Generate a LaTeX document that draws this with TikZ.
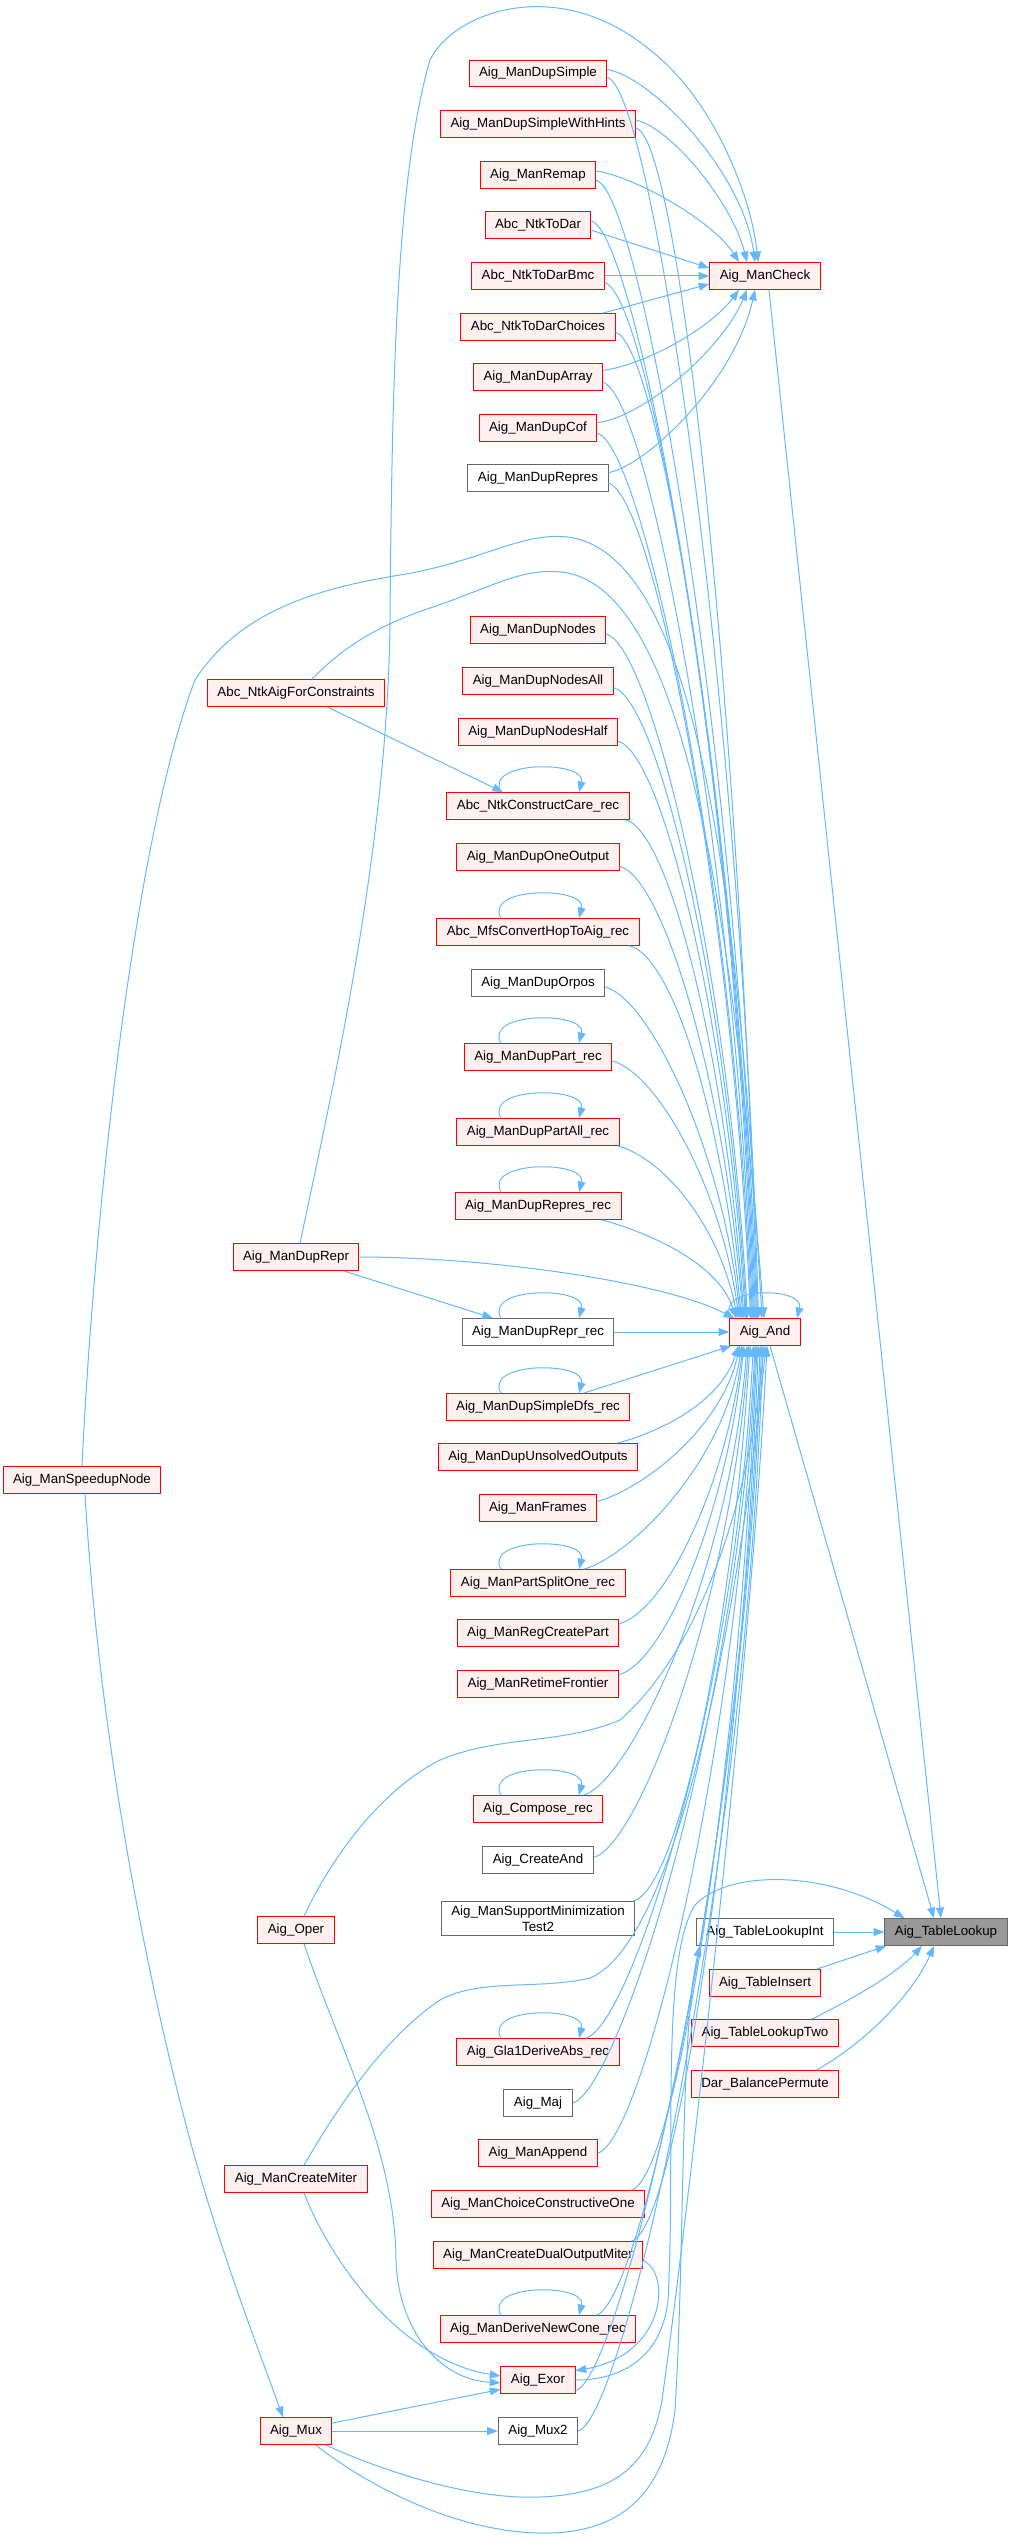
\documentclass[tikz,border=0pt]{standalone}
\usepackage{fontspec}
\setmainfont{Liberation Sans}
\usetikzlibrary{arrows.meta,calc}
\definecolor{edgec}{HTML}{63B8FF}
\definecolor{nodered}{HTML}{FF0000}
\definecolor{nodefill}{HTML}{FFF0F0}
\definecolor{graybd}{HTML}{666666}
\definecolor{focusfill}{HTML}{999999}
\newcommand\dnX[3]{\draw[ed] #1 .. controls +(45,12) and +(-18,#2) .. ($(A.north)+(#3,0)$);}
\newcommand\upX[3]{\draw[ed] #1 .. controls +(45,-12) and +(-18,#2) .. ($(A.south)+(#3,0)$);}
\newcommand\selfloop[3]{\draw[ed] ($(#1.north)+(#2,0)$) .. controls +(-18,-32) and +(8,-32) .. ($(#1.north)+(#3,0)$);}
\begin{document}
\begin{tikzpicture}[x=0.75pt,y=-0.75pt,
  base/.style={draw, rectangle, font=\fontsize{10pt}{12pt}\selectfont, minimum height=20pt, inner xsep=7.5pt, inner ysep=2pt, line width=0.75pt},
  rn/.style={base, draw=nodered, fill=nodefill},
  gn/.style={base, draw=graybd, fill=white},
  fn/.style={base, draw=graybd, fill=focusfill},
  ed/.style={draw=edgec, line width=0.75pt, -{Triangle[length=8pt,width=6pt]}}]
\useasboundingbox (0,0) rectangle (1011,2540);

% column 2
\node[rn] (n1) at (538,73.5) {Aig\_ManDupSimple};
\node[rn] (n2) at (538,124) {Aig\_ManDupSimpleWithHints};
\node[rn] (n3) at (538,175) {Aig\_ManRemap};
\node[rn] (n4) at (538,225) {Abc\_NtkToDar};
\node[rn] (n5) at (538,276) {Abc\_NtkToDarBmc};
\node[rn] (n6) at (538,327) {Abc\_NtkToDarChoices};
\node[rn] (n7) at (538,377) {Aig\_ManDupArray};
\node[rn] (n8) at (538,428) {Aig\_ManDupCof};
\node[gn] (n9) at (538,478) {Aig\_ManDupRepres};
\node[rn] (n10) at (538,630) {Aig\_ManDupNodes};
\node[rn] (n11) at (538,681) {Aig\_ManDupNodesAll};
\node[rn] (n12) at (538,732) {Aig\_ManDupNodesHalf};
\node[rn] (n13) at (538,806) {Abc\_NtkConstructCare\_rec};
\node[rn] (n14) at (538,857) {Aig\_ManDupOneOutput};
\node[rn] (n15) at (538,932) {Abc\_MfsConvertHopToAig\_rec};
\node[gn] (n16) at (538,983) {Aig\_ManDupOrpos};
\node[rn] (n17) at (538,1057) {Aig\_ManDupPart\_rec};
\node[rn] (n18) at (538,1132) {Aig\_ManDupPartAll\_rec};
\node[rn] (n19) at (538,1206) {Aig\_ManDupRepres\_rec};
\node[gn] (n20) at (538,1332) {Aig\_ManDupRepr\_rec};
\node[rn] (n21) at (538,1407) {Aig\_ManDupSimpleDfs\_rec};
\node[rn] (n22) at (538,1457) {Aig\_ManDupUnsolvedOutputs};
\node[rn] (n23) at (538,1508) {Aig\_ManFrames};
\node[rn] (n24) at (538,1583) {Aig\_ManPartSplitOne\_rec};
\node[rn] (n25) at (538,1633) {Aig\_ManRegCreatePart};
\node[rn] (n26) at (538,1684) {Aig\_ManRetimeFrontier};
\node[rn] (n27) at (538,1809) {Aig\_Compose\_rec};
\node[gn] (n28) at (538,1860) {Aig\_CreateAnd};
\node[gn, align=center, inner ysep=3pt] (n29) at (538,1918.5) {Aig\_ManSupportMinimization\\Test2};
\node[rn] (n30) at (538,2052) {Aig\_Gla1DeriveAbs\_rec};
\node[gn] (n31) at (538,2103) {Aig\_Maj};
\node[rn] (n32) at (538,2153) {Aig\_ManAppend};
\node[rn] (n33) at (538,2204) {Aig\_ManChoiceConstructiveOne};
\node[rn] (n34) at (538,2255) {Aig\_ManCreateDualOutputMiter};
\node[rn] (n35) at (538,2329) {Aig\_ManDeriveNewCone\_rec};
\node[rn] (ex) at (538,2380) {Aig\_Exor};
\node[gn] (m2) at (538,2431) {Aig\_Mux2};

% column 1
\node[rn] (chk) at (765,276) {Aig\_ManCheck};
\node[rn] (A) at (765,1332) {Aig\_And};
\node[gn] (tli) at (765,1932) {Aig\_TableLookupInt};
\node[rn] (tins) at (765,1983) {Aig\_TableInsert};
\node[rn] (tlt) at (765,2033) {Aig\_TableLookupTwo};
\node[rn] (dbp) at (765,2084) {Dar\_BalancePermute};
% column 0
\node[fn] (tl) at (946,1932) {Aig\_TableLookup};
% column 3
\node[rn] (afc) at (296,693) {Abc\_NtkAigForConstraints};
\node[rn] (dr) at (296,1257) {Aig\_ManDupRepr};
\node[rn] (op) at (296,1930) {Aig\_Oper};
\node[rn] (cm) at (296,2179) {Aig\_ManCreateMiter};
\node[rn] (mux) at (296,2431) {Aig\_Mux};
% column 4
\node[rn] (sp) at (82,1480) {Aig\_ManSpeedupNode};

% edges to Aig_ManCheck
\draw[ed] ([yshift=3pt]n1.east) .. controls +(45,8) and +(-12,-90) .. ($(chk.north)+(-10,0)$);
\draw[ed] ([yshift=3pt]n2.east) .. controls +(35,8) and +(-15,-60) .. ($(chk.north)+(-18,0)$);
\draw[ed] ([yshift=3pt]n3.east) .. controls +(40,6) and +(-25,-40) .. ($(chk.north)+(-26,0)$);
\draw[ed] ([yshift=-4pt]n4.east) -- ([yshift=6pt]chk.west);
\draw[ed] (n5.east) -- (chk.west);
\draw[ed] ($(n6.north east)+(-13,0)$) -- ([yshift=-6pt]chk.west);
\draw[ed] ([yshift=5pt]n7.east) .. controls +(40,-5) and +(-30,40) .. ($(chk.south)+(-26,0)$);
\draw[ed] ([yshift=4pt]n8.east) .. controls +(45,-5) and +(-25,60) .. ($(chk.south)+(-18,0)$);
\draw[ed] ([yshift=4pt]n9.east) .. controls +(40,-8) and +(-20,90) .. ($(chk.south)+(-10,0)$);
\draw[ed] ($(dr.north)+(4,0)$) .. controls (330,1100) and (388,850) .. (390,620)
   .. controls (392,400) and (395,180) .. (430,60)
   .. controls (455,10) and (560,-25) .. (650,50)
   .. controls (715,100) and (752,200) .. ($(chk.north)+(-7,0)$);

% edges to Aig_And from above
\dnX{([yshift=-3pt]n1.east)}{-623}{-6.5}
\dnX{([yshift=-3pt]n2.east)}{-598}{-7.5}
\dnX{([yshift=-4pt]n3.east)}{-572}{-8.5}
\dnX{([yshift=3pt]n4.east)}{-547}{-9.5}
\dnX{([yshift=-5pt]n5.east)}{-521}{-10.5}
\dnX{([yshift=-4pt]n6.east)}{-496}{-11.5}
\dnX{([yshift=-4pt]n7.east)}{-471}{-12.5}
\dnX{([yshift=-4pt]n8.east)}{-445}{-13.5}
\dnX{([yshift=-4pt]n9.east)}{-420}{-14.5}
\dnX{([yshift=-3pt]n10.east)}{-344}{-17.6}
\dnX{([yshift=-5pt]n11.east)}{-319}{-18.6}
\dnX{([yshift=-7pt]n12.east)}{-293}{-19.6}
\dnX{($(n13.south east)+(-4,0)$)}{-256}{-21}
\dnX{([yshift=-7pt]n14.east)}{-231}{-22}
\dnX{($(n15.south east)+(-10,0)$)}{-193}{-23.6}
\dnX{([yshift=-3pt]n16.east)}{-168}{-24.7}
\dnX{([yshift=-3pt]n17.east)}{-131}{-26}
\dnX{($(n18.south east)+(-2,0)$)}{-93}{-27.6}
\dnX{($(n19.south east)+(-20,0)$)}{-56}{-29}
\draw[ed] (n20.east) -- (A.west);

% edges to Aig_And from below
\draw[ed] ($(n21.north east)+(-47,0)$) -- ($(A.south west)+(2,0)$);
\upX{($(n22.north east)+(-21,0)$)}{56}{-26.6}
\upX{([yshift=5pt]n23.east)}{82}{-25.3}
\upX{($(n24.north east)+(-42,0)$)}{119}{-23.4}
\upX{([yshift=7pt]n25.east)}{144}{-22}
\upX{([yshift=7pt]n26.east)}{170}{-21}
\upX{($(n27.north east)+(-20,0)$)}{232}{-18}
\upX{([yshift=2pt]n28.east)}{258}{-16.5}
\upX{($(n29.north east)+(-2,0)$)}{287}{-15}
\upX{($(n30.north east)+(-34,0)$)}{354}{-11.7}
\upX{(n31.east)}{379}{-10}
\upX{(n32.east)}{404}{-9}
\upX{($(n33.north east)+(-14,0)$)}{430}{-8}
\upX{($(n34.north east)+(-12,0)$)}{455}{-6.6}
\upX{($(n35.north east)+(-40,0)$)}{492}{-4.8}
\upX{([yshift=-8pt]ex.east)}{518}{-3.5}
\upX{(m2.east)}{543}{-2}

% self loops
\selfloop{n13}{-37}{41}
\selfloop{n15}{-37}{41}
\selfloop{n17}{-37}{41}
\selfloop{n18}{-37}{41}
\selfloop{n19}{-37}{41}
\selfloop{n20}{-37}{41}
\selfloop{n21}{-37}{41}
\selfloop{n24}{-37}{41}
\selfloop{n27}{-37}{41}
\selfloop{n30}{-37}{41}
\selfloop{n35}{-37}{41}
\selfloop{A}{-34}{32}

% column 3 and 4 edges
\draw[ed] ($(afc.south)+(31,0)$) -- ($(n13.north)+(-35,0)$);
\draw[ed] ($(afc.north)+(16,0)$) .. controls (345,645) and (380,625) .. (430,608)
   .. controls (490,588) and (520,568) .. (561,572)
   .. controls (690,585) and (735,950) .. ($(A.north)+(-1,0)$);
\draw[ed] (sp.north) .. controls (92,1250) and (130,850) .. (195,680)
   .. controls (240,610) and (320,588) .. (400,575)
   .. controls (480,562) and (520,532) .. (568,537)
   .. controls (700,555) and (738,900) .. ($(A.north)+(-3,0)$);
\draw[ed] ($(sp.south)+(3,0)$) .. controls (100,1750) and (150,1990) .. (190,2140)
   .. controls (220,2250) and (255,2340) .. ($(mux.north)+(-13,0)$);
\draw[ed] (dr.east) .. controls (480,1257) and (660,1280) .. ($(A.north west)+(5,0)$);
\draw[ed] ($(dr.south east)+(-16,0)$) -- ($(n20.north)+(-45,0)$);
\draw[ed] ($(op.north)+(8,0)$) .. controls (330,1860) and (380,1790) .. (440,1760)
   .. controls (500,1735) and (560,1745) .. (620,1720)
   .. controls (700,1650) and (750,1500) .. ($(A.south)+(-1,0)$);
\draw[ed] ($(op.south)+(8,0)$) .. controls (340,2050) and (395,2150) .. (396,2260)
   .. controls (398,2330) and (440,2380) .. ([yshift=-2pt]ex.west);
\draw[ed] ($(cm.north)+(8,0)$) .. controls (330,2120) and (380,2040) .. (440,2000)
   .. controls (480,1978) and (540,1990) .. (590,1978)
   .. controls (680,1940) and (740,1600) .. ($(A.south)+(1,0)$);
\draw[ed] ($(cm.south)+(8,0)$) .. controls (330,2260) and (400,2360) .. ([yshift=3pt]ex.west);
\draw[ed] ([yshift=6pt]mux.east) -- ([yshift=-7pt]ex.west);
\draw[ed] (mux.east) -- (m2.west);
\draw[ed] ($(mux.south east)+(-7,0)$) .. controls (380,2470) and (470,2500) .. (540,2497)
   .. controls (610,2494) and (650,2470) .. (662,2400)
   .. controls (690,2200) and (752,1650) .. ($(A.south)+(2,0)$);
\draw[ed] ($(mux.south east)+(-17,0)$) .. controls (380,2495) and (470,2535) .. (550,2533)
   .. controls (625,2531) and (665,2490) .. (675,2410)
   .. controls (685,2250) and (680,2030) .. ($(tli.south west)+(4,0)$);
\draw[ed] ([yshift=-4pt]n34.east) .. controls (672,2275) and (665,2355) .. ([yshift=7pt]ex.east);
\draw[ed] (ex.east) .. controls (625,2380) and (662,2355) .. (668,2300)
   .. controls (676,2150) and (660,1960) .. (695,1905)
   .. controls (730,1868) and (830,1872) .. ($(tl.north west)+(20,0)$);

% edges to Aig_TableLookup
\draw[ed] ($(chk.south)+(4,0)$) -- ($(tl.north)+(-5,0)$);
\draw[ed] ($(A.south)+(5,0)$) -- ($(tl.north)+(-12,0)$);
\draw[ed] (tli.east) -- (tl.west);
\draw[ed] ($(tins.north east)+(-5,0)$) -- ($(tl.south west)+(2,0)$);
\draw[ed] ($(tlt.north east)+(-27,0)$) .. controls (850,2000) and (895,1975) .. ($(tl.south)+(-24,0)$);
\draw[ed] ($(dbp.north east)+(-23,0)$) .. controls (870,2040) and (915,1990) .. ($(tl.south)+(-12,0)$);
\end{tikzpicture}
\end{document}
